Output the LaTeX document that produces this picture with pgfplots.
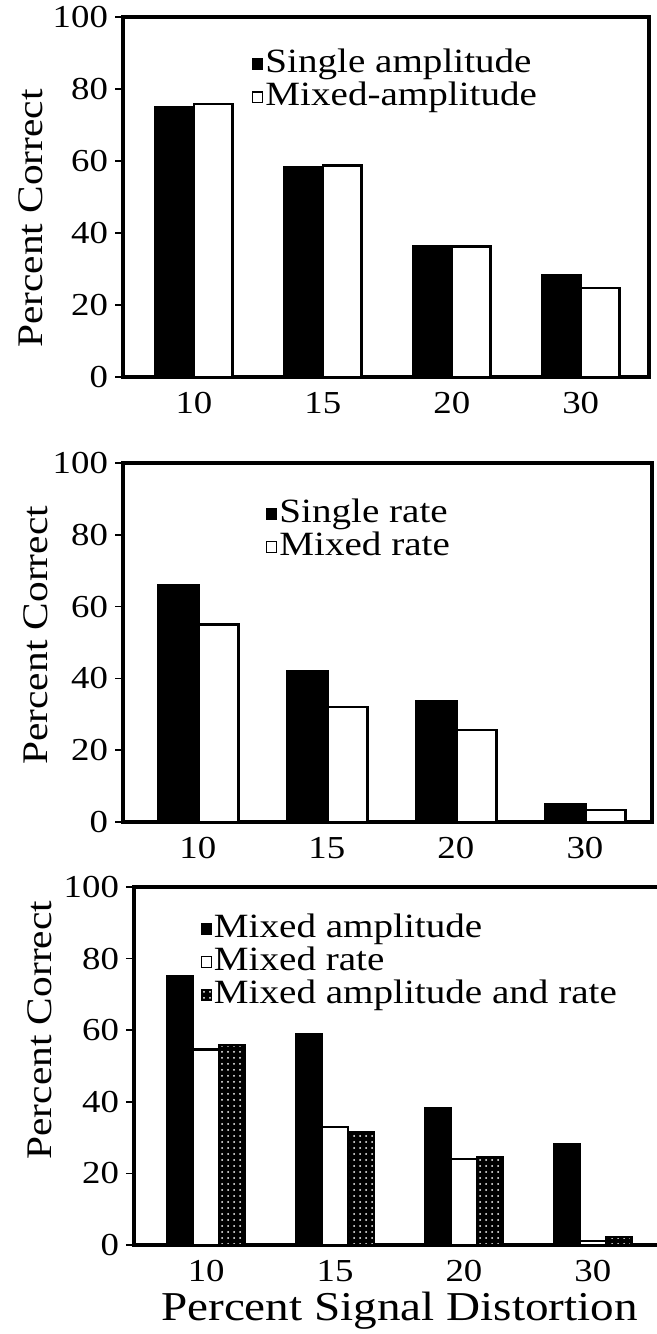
\documentclass[border=0pt]{standalone}
\usepackage{fontspec}
\setmainfont{Liberation Serif}[FakeStretch=1.15]
\usepackage{pgfplots}
\pgfplotsset{compat=1.18}
\usetikzlibrary{patterns}

\pgfplotsset{
  panel/.style={
    scale only axis,
    ybar,
    ymin=0, ymax=100,
    ytick={0,20,40,60,80,100},
    xtick={0,1,2,3},
    xticklabels={10,15,20,30},
    axis line style={line width=1.6pt},
    xtick style={draw=none},
    ytick style={line width=0.8pt, black},
    tick align=outside,
    ytick pos=left,
    major tick length=4pt,
    tick label style={font=\fontsize{16}{16}\selectfont},
    /pgf/number format/assume math mode=true,
    ylabel={Percent Correct},
    legend style={draw=none, fill=none, font=\fontsize{17}{17}\selectfont,
      anchor=north west, inner sep=0pt, row sep=0pt,
      nodes={inner xsep=1pt, inner ysep=0pt, text height=12.5pt, text depth=4pt}},
    legend cell align=left,
  },
  sq/.style={legend image code/.code={\draw[##1, line width=0.6pt] (0pt,-0.27em) rectangle (0.5em,0.27em);}},
  blk/.style={fill=black, draw=black, line width=1.2pt, sq},
  wht/.style={fill=white, draw=black, line width=1.2pt, sq},
}

\begin{document}
\begin{tikzpicture}[x=1pt,y=1pt]
\useasboundingbox (0,0) rectangle (328.5,667);
\clip (0,0) rectangle (328.5,667);

% top panel: amplitude
\begin{axis}[panel, at={(61.5pt,478.5pt)}, anchor=south west,
  width=263pt, height=180pt, xmin=-0.55, xmax=3.53, bar width=0.3,
  ylabel style={font=\fontsize{18}{18}\selectfont, at={(axis description cs:-0.175,0.44)}, anchor=center},
  legend style={at={(axis description cs:0.245,0.915)}}]
\addplot[blk, bar shift=-0.15] coordinates {(0,75) (1,58.3) (2,36.2) (3,28.4)};
\addlegendentry{Single amplitude}
\addplot[wht, bar shift=0.15] coordinates {(0,75.8) (1,58.8) (2,36.2) (3,24.7)};
\addlegendentry{Mixed-amplitude}
\end{axis}

% middle panel: rate
\begin{axis}[panel, at={(61.5pt,256pt)}, anchor=south west,
  width=264.5pt, height=179.5pt, xmin=-0.58, xmax=3.52, bar width=0.31,
  ylabel style={font=\fontsize{18}{18}\selectfont, at={(axis description cs:-0.165,0.52)}, anchor=center},
  legend style={at={(axis description cs:0.27,0.905)}}]
\addplot[blk, bar shift=-0.15] coordinates {(0,66) (1,42) (2,33.6) (3,4.9)};
\addlegendentry{Single rate}
\addplot[wht, bar shift=0.16] coordinates {(0,55) (1,32) (2,25.7) (3,3.3)};
\addlegendentry{Mixed rate}
\end{axis}

% bottom panel: combined
\begin{axis}[panel, at={(67pt,44.5pt)}, anchor=south west,
  width=265.5pt, height=179pt, xmin=-0.56, xmax=3.56, bar width=0.2,
  ylabel style={font=\fontsize{18}{18}\selectfont, at={(axis description cs:-0.177,0.6)}, anchor=center},
  xlabel={Percent Signal Distortion},
  xlabel style={font=\fontsize{20.5}{20.5}\selectfont, at={(axis description cs:0.5,0)}, anchor=center, yshift=-33pt},
  legend style={at={(axis description cs:0.125,0.93)}}]
\addplot[blk, bar shift=-0.2] coordinates {(0,75) (1,58.8) (2,38.2) (3,28.2)};
\addlegendentry{Mixed amplitude}
\addplot[wht, bar shift=0] coordinates {(0,54.6) (1,32.9) (2,24) (3,1.2)};
\addlegendentry{Mixed rate}
\addplot[blk, bar shift=0.2, postaction={pattern=dots, pattern color=white}] coordinates {(0,55.8) (1,31.5) (2,24.5) (3,2.2)};
\addlegendentry{Mixed amplitude and rate}
\end{axis}
\end{tikzpicture}
\end{document}
